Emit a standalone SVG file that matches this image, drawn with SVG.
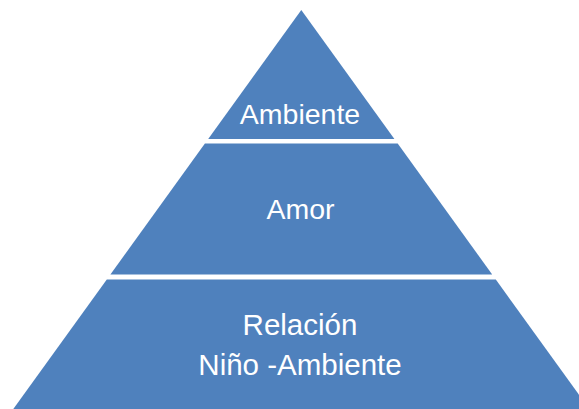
<svg xmlns="http://www.w3.org/2000/svg" width="579" height="409" viewBox="0 0 579 409">
<style>
.tier{fill:#4F81BD;}
.lbl{fill:#FFFFFF;font-family:"Liberation Sans",Arial,sans-serif;font-size:28.5px;text-anchor:middle;}
.big{font-size:29.5px;}
</style>
<rect x="0" y="0" width="579" height="409" fill="#FFFFFF"/>
<g id="tier-ambiente">
<polygon class="tier" points="301.3,10 394.4,139 208.2,139"/>
<text class="lbl" x="300" y="123.5">Ambiente</text>
</g>
<g id="tier-amor">
<polygon class="tier" points="204.9,143.5 397.7,143.5 492.2,274.5 110.4,274.5"/>
<text class="lbl" x="300.5" y="218.5">Amor</text>
</g>
<g id="tier-relacion">
<polygon class="tier" points="106.8,279.5 495.8,279.5 589.3,409 13.3,409"/>
<text class="lbl big" x="300" y="334.5">Relación</text>
<text class="lbl big" x="300" y="375">Niño -Ambiente</text>
</g>
<g id="connectors"></g>
</svg>
